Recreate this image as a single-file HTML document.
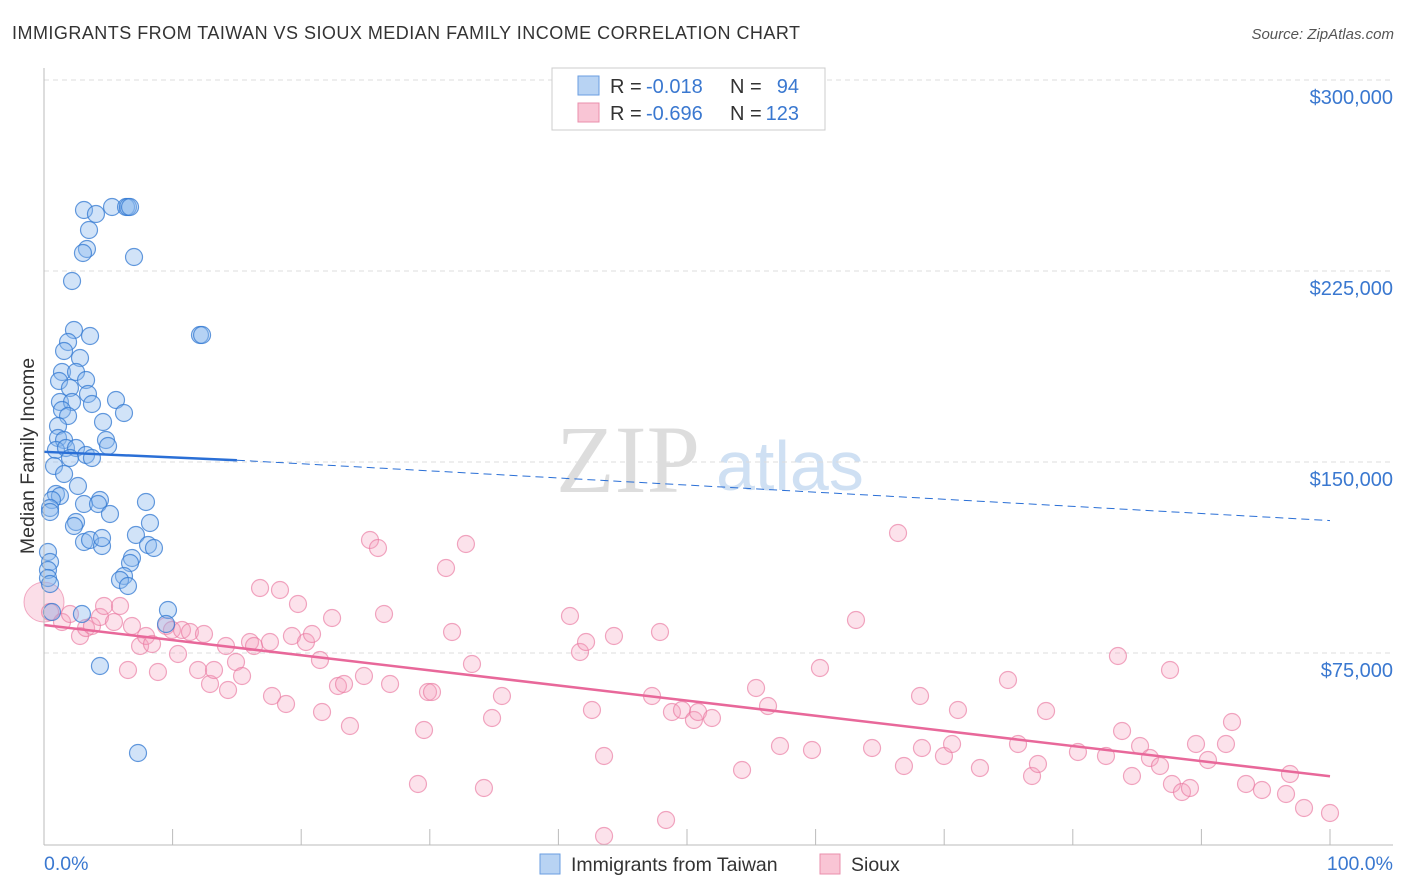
<!DOCTYPE html>
<html><head><meta charset="utf-8"><style>
body{margin:0;background:#fff;font-family:"Liberation Sans",sans-serif;}
svg{display:block}
</style></head><body>
<svg id="chart" width="1406" height="892">
<text x="12" y="39" font-size="18" fill="#333" textLength="788">IMMIGRANTS FROM TAIWAN VS SIOUX MEDIAN FAMILY INCOME CORRELATION CHART</text>
<text x="1394" y="39" font-size="15" fill="#555" font-style="italic" text-anchor="end">Source: ZipAtlas.com</text>
<text transform="translate(34,456) rotate(-90)" font-size="19.5" fill="#333" text-anchor="middle">Median Family Income</text>
<text x="556" y="492" font-size="96" fill="#ddd" font-family="Liberation Serif,serif">ZIP</text>
<text x="716" y="490" font-size="70" fill="#cfe0f3">atlas</text>
<g id="grid"></g><g id="pts"></g><g id="lines"></g>
<line x1="44" y1="68" x2="44" y2="845" stroke="#bbb"/>
<line x1="44" y1="845" x2="1393" y2="845" stroke="#bbb"/>
<text x="44" y="870" font-size="19.5" fill="#3a78d0">0.0%</text>
<text x="1393" y="870" font-size="19.5" fill="#3a78d0" text-anchor="end">100.0%</text>
<g>
<rect x="552" y="68" width="273" height="62" fill="#fff" stroke="#ccc"/>
<rect x="578" y="76" width="21" height="19" fill="#b8d3f3" stroke="#6a9ee0"/>
<rect x="578" y="103" width="21" height="19" fill="#f9c5d5" stroke="#ea8fac"/>
<text x="610" y="93" font-size="20" fill="#333">R =</text>
<text x="646" y="93" font-size="20" fill="#3a78d0">-0.018</text>
<text x="730" y="93" font-size="20" fill="#333">N =</text>
<text x="799" y="93" font-size="20" fill="#3a78d0" text-anchor="end">94</text>
<text x="610" y="120" font-size="20" fill="#333">R =</text>
<text x="646" y="120" font-size="20" fill="#3a78d0">-0.696</text>
<text x="730" y="120" font-size="20" fill="#333">N =</text>
<text x="799" y="120" font-size="20" fill="#3a78d0" text-anchor="end">123</text>
</g>
<g>
<rect x="540" y="854" width="20" height="20" fill="#b8d3f3" stroke="#6a9ee0"/>
<text x="571" y="871" font-size="19.5" fill="#333">Immigrants from Taiwan</text>
<rect x="820" y="854" width="20" height="20" fill="#f9c5d5" stroke="#ea8fac"/>
<text x="851" y="871" font-size="19.5" fill="#333">Sioux</text>
</g>
</svg>
<script>
const yTicks=[75000,150000,225000,300000];
const yTickLabels=["$75,000","$150,000","$225,000","$300,000"];
const xTicks=[0,10,20,30,40,50,60,70,80,90,100];
const bluePx=[[84,210],[96,214],[112,207],[126,207],[128,207],[130,207],[89,230],[87,249],[83,253],[134,257],[72,281],[74,330],[90,336],[200,335],[202,335],[68,342],[64,351],[80,358],[62,372],[76,372],[59,381],[86,380],[70,388],[88,394],[60,402],[72,402],[92,404],[116,400],[62,410],[124,413],[68,416],[58,426],[103,422],[58,438],[64,440],[106,440],[56,450],[66,448],[76,448],[86,455],[92,458],[108,446],[70,458],[54,466],[64,474],[78,486],[56,494],[60,496],[52,500],[100,500],[146,502],[84,504],[50,508],[98,504],[110,514],[50,512],[76,522],[74,526],[150,523],[136,535],[84,542],[90,540],[102,546],[102,538],[148,545],[154,548],[132,558],[130,563],[48,552],[50,562],[48,570],[48,578],[124,576],[120,580],[128,586],[168,610],[166,624],[82,614],[52,612],[100,666],[138,753],[50,584]];
const pinkPx=[[50,612],[62,622],[70,614],[80,636],[86,628],[92,626],[100,617],[104,606],[114,622],[120,606],[128,670],[132,626],[140,646],[146,636],[152,644],[158,672],[166,626],[172,630],[178,654],[182,630],[190,632],[198,670],[204,634],[210,684],[214,670],[226,646],[228,690],[236,662],[242,676],[250,642],[254,646],[260,588],[270,642],[272,696],[280,590],[286,704],[292,636],[298,604],[306,642],[312,634],[320,660],[322,712],[332,618],[338,686],[344,684],[350,726],[364,676],[370,540],[378,548],[384,614],[390,684],[418,784],[424,730],[428,692],[432,692],[446,568],[452,632],[466,544],[472,664],[484,788],[492,718],[502,696],[570,616],[580,652],[586,642],[592,710],[604,756],[604,836],[614,636],[652,696],[660,632],[666,820],[672,712],[682,710],[694,720],[698,712],[712,718],[742,770],[756,688],[768,706],[780,746],[812,750],[820,668],[856,620],[872,748],[898,533],[904,766],[920,696],[922,748],[944,756],[952,744],[958,710],[980,768],[1008,680],[1018,744],[1032,776],[1038,764],[1046,711],[1078,752],[1106,756],[1118,656],[1122,731],[1132,776],[1140,746],[1150,758],[1160,766],[1170,670],[1172,784],[1182,792],[1190,788],[1196,744],[1208,760],[1226,744],[1232,722],[1246,784],[1262,790],[1286,794],[1290,774],[1304,808],[1330,813]];
const blueX=bluePx.map(p=>+((p[0]-44)/12.86).toFixed(2));
const blueY=bluePx.map(p=>Math.round((844-p[1])/191*75000));
const pinkX=pinkPx.map(p=>+((p[0]-44)/12.86).toFixed(2));
const pinkY=pinkPx.map(p=>Math.round((844-p[1])/191*75000));
const blueTrend=[[0,154000],[15,150700],[100,127000]];
const pinkTrend=[[0,86000],[100,26600]];
const pinkBig=[0,95000];
const sx=v=>44+v*12.86, sy=v=>844-v/75000*191;
const NS="http://www.w3.org/2000/svg";
function mk(tag,attrs,parent){const e=document.createElementNS(NS,tag);for(const k in attrs)e.setAttribute(k,attrs[k]);document.getElementById(parent).appendChild(e);return e;}
yTicks.forEach((t,i)=>{
 const l=mk('line',{x1:44,x2:1393,y1:sy(t),y2:sy(t),stroke:'#ddd','stroke-dasharray':'5,4'},'grid');
 
 
 const tx=mk('text',{x:1393,y:sy(t)+24,'font-size':20,fill:'#3a78d0','text-anchor':'end'},'grid');
 tx.textContent=yTickLabels[i];
 
 
});
xTicks.forEach(t=>{
 if(t===0)return;
 const l=mk('line',{x1:sx(t),x2:sx(t),y1:829,y2:845,stroke:'#bbb'},'grid');
 
 
});
const big=mk('circle',{cx:sx(pinkBig[0]),cy:sy(pinkBig[1]),r:20,fill:'rgba(244,160,188,0.35)',stroke:'rgba(234,120,160,0.6)'},'pts');


pinkX.forEach((x,i)=>{
 const c=mk('circle',{cx:sx(x),cy:sy(pinkY[i]),r:8.5,fill:'rgba(244,160,188,0.3)',stroke:'rgba(234,120,160,0.65)','stroke-width':1.2},'pts');
 
 
});
blueX.forEach((x,i)=>{
 const c=mk('circle',{cx:sx(x),cy:sy(blueY[i]),r:8.5,fill:'rgba(140,185,238,0.4)',stroke:'rgba(50,120,210,0.75)','stroke-width':1.2},'pts');
 
 
});
const b1=mk('line',{x1:sx(blueTrend[0][0]),y1:sy(blueTrend[0][1]),x2:sx(blueTrend[1][0]),y2:sy(blueTrend[1][1]),stroke:'#2a6fd6','stroke-width':2.5},'lines');


const b2=mk('line',{x1:sx(blueTrend[1][0]),y1:sy(blueTrend[1][1]),x2:sx(blueTrend[2][0]),y2:sy(blueTrend[2][1]),stroke:'#2a6fd6','stroke-width':1,'stroke-dasharray':'8,5'},'lines');


const p1=mk('line',{x1:sx(pinkTrend[0][0]),y1:sy(pinkTrend[0][1]),x2:sx(pinkTrend[1][0]),y2:sy(pinkTrend[1][1]),stroke:'#e8689a','stroke-width':2.5},'lines');


</script>
</body></html>
